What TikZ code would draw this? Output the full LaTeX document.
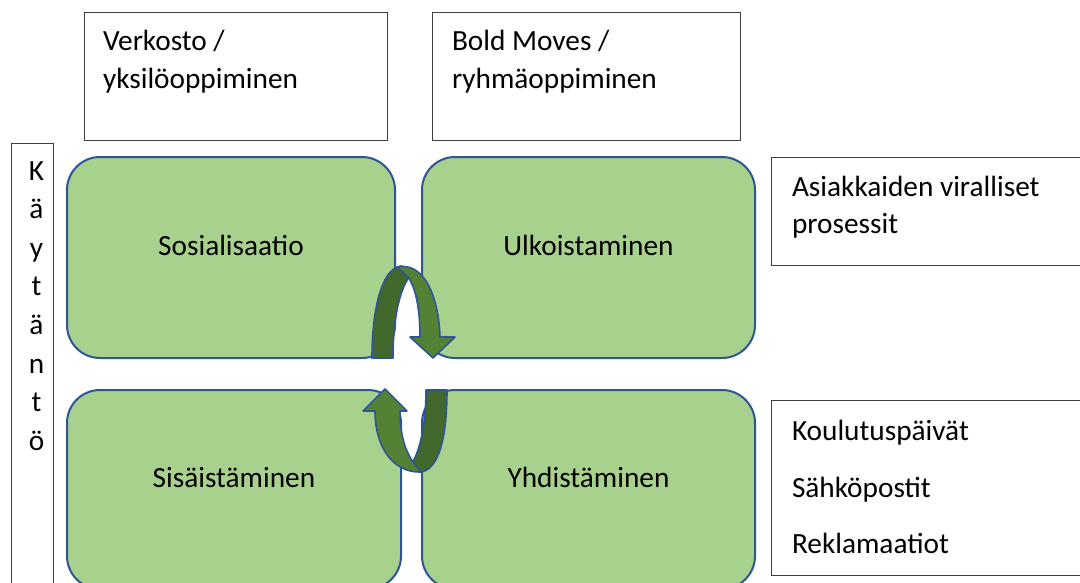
\documentclass[tikz,border=0pt]{standalone}
\usepackage{fontspec}
\setmainfont{Carlito}
\definecolor{gfill}{HTML}{A9D18E}
\definecolor{gline}{HTML}{2F5597}
\definecolor{adark}{HTML}{43682B}
\definecolor{alight}{HTML}{548235}
\definecolor{boxline}{HTML}{404040}
\tikzset{
  plainbox/.style={draw=boxline, line width=1pt, fill=white, inner sep=0pt, outer sep=0pt, anchor=north west},
  gbox/.style={draw=gline, fill=gfill, line width=2pt, rounded corners=33pt, inner sep=0pt, outer sep=0pt, anchor=north west},
  txt/.style={font=\fontsize{29.3}{35}\selectfont, inner sep=0pt, outer sep=0pt, anchor=base west},
  ctxt/.style={font=\fontsize{29.3}{35}\selectfont, inner sep=0pt, outer sep=0pt, anchor=base},
  arrowline/.style={draw=gline, line width=1.6pt, line join=round}
}
\begin{document}
\begin{tikzpicture}[x=1pt,y=-1pt]
\useasboundingbox (0,0) rectangle (1080,582);
\fill[white] (0,0) rectangle (1080,582);
\clip (0,0) rectangle (1080,582);

% top boxes
\node[plainbox, minimum width=303pt, minimum height=128pt] (verkbox) at (84,12) {};
\node[txt] (verk1) at (103,50) {Verkosto /};
\node[txt] (verk2) at (103,88) {yksilöoppiminen};
\node[plainbox, minimum width=308pt, minimum height=128pt] (boldbox) at (432,12) {};
\node[txt] (bold1) at (452,50) {Bold Moves /};
\node[txt] (bold2) at (452,88) {ryhmäoppiminen};

% left vertical box
\node[plainbox, minimum width=42pt, minimum height=470pt] (kaybox) at (11,143) {};
\foreach \ch [count=\i from 0] in {K,ä,y,t,ä,n,t,ö}{
  \node[ctxt] (kay\i) at (36.5,{180+38.6*\i}) {\ch};
}

% right boxes
\node[plainbox, minimum width=330pt, minimum height=108pt] (asiakbox) at (771,157) {};
\node[txt] (asiak1) at (792,196) {Asiakkaiden viralliset};
\node[txt] (asiak2) at (792,233) {prosessit};
\node[plainbox, minimum width=330pt, minimum height=175pt] (koulbox) at (771,400) {};
\node[txt] (koul1) at (792,440) {Koulutuspäivät};
\node[txt] (koul2) at (792,497) {Sähköpostit};
\node[txt] (koul3) at (792,553) {Reklamaatiot};

% green quadrants
\node[gbox, minimum width=328pt, minimum height=201pt] (sos) at (67,157) {};
\node[ctxt] (sostxt) at (sos.center |- 0,255) {Sosialisaatio};
\node[gbox, minimum width=333pt, minimum height=201pt] (ulk) at (422,157) {};
\node[ctxt] (ulktxt) at (ulk.center |- 0,255) {Ulkoistaminen};
\node[gbox, minimum width=334pt, minimum height=199pt] (sis) at (67,390) {};
\node[ctxt] (sistxt) at (sis.center |- 0,487) {Sisäistäminen};
\node[gbox, minimum width=333pt, minimum height=199pt] (yhd) at (422,390) {};
\node[ctxt] (yhdtxt) at (yhd.center |- 0,487) {Yhdistäminen};

% top curved arrow (Sosialisaatio -> Ulkoistaminen)
\path[arrowline, fill=adark] (372,358) .. controls (372,300) and (385,266) .. (402,266)
   -- (409,277) .. controls (399,292) and (393,320) .. (393,358) -- cycle;
\path[arrowline, fill=alight] (397,267) .. controls (427,261) and (439,303) .. (440,337)
   -- (455,337) -- (433,358) -- (410,337) -- (420,337)
   .. controls (420,310) and (416,288) .. (408,277) -- cycle;

% bottom curved arrow (Yhdistäminen -> Sisäistäminen)
\path[arrowline, fill=adark] (426,390) -- (447,390) .. controls (447,440) and (438,472) .. (419,472)
   -- (411,465) .. controls (421,450) and (426,420) .. (426,390) -- cycle;
\path[arrowline, fill=alight] (375,411) .. controls (375,447) and (393,473) .. (421,472)
   -- (413,462) .. controls (405,450) and (400,435) .. (400,411)
   -- (407,411) -- (385,389) -- (363,411) -- cycle;
\end{tikzpicture}
\end{document}
